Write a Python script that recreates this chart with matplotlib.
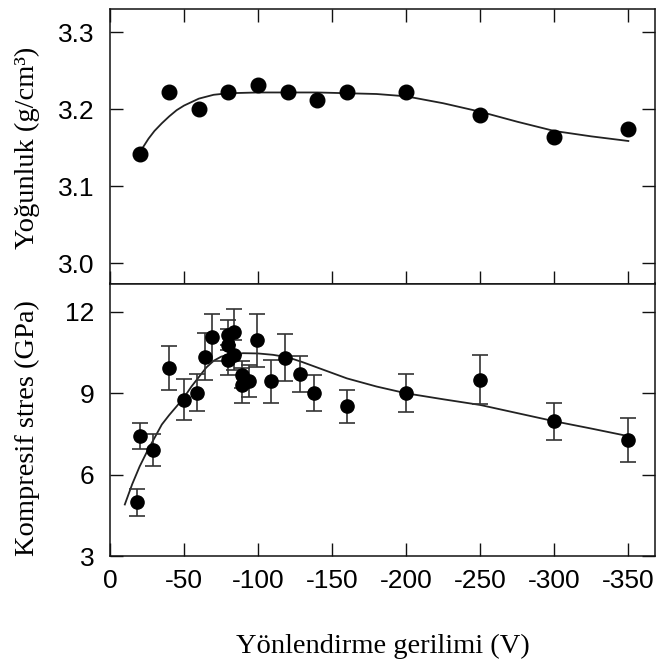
import matplotlib
matplotlib.use("Agg")
import matplotlib.pyplot as plt

plt.rcParams['axes.unicode_minus'] = False

# ---------------- data ----------------
# Top panel: density vs bias voltage
bias_density = [-20, -40, -60, -80, -100, -120, -140, -160, -200, -250, -300, -350]
density = [3.142, 3.222, 3.201, 3.222, 3.232, 3.222, 3.212, 3.222, 3.223, 3.193, 3.164, 3.174]

fit_density_x = [-22, -26, -30, -35, -40, -45, -50, -60, -70, -80, -100, -120, -140,
                 -160, -180, -200, -225, -250, -275, -300, -325, -350]
fit_density_y = [3.150, 3.162, 3.172, 3.182, 3.191, 3.199, 3.205, 3.214, 3.219, 3.221,
                 3.222, 3.222, 3.222, 3.221, 3.220, 3.217, 3.208, 3.197, 3.184, 3.172,
                 3.165, 3.159]

# Bottom panel: compressive stress vs bias voltage
bias_stress = [-18, -20, -29, -40, -50, -59, -64, -69, -80, -80, -80, -84, -84,
               -89, -89, -94, -99, -109, -118, -128, -138, -160, -200, -250, -300, -350]
stress = [4.98, 7.42, 6.91, 9.93, 8.77, 9.03, 10.35, 11.06, 11.15, 10.78, 10.23, 11.27, 10.41,
          9.68, 9.29, 9.46, 10.96, 9.44, 10.32, 9.72, 9.01, 8.52, 9.01, 9.50, 7.97, 7.28]
stress_err = [0.50, 0.48, 0.60, 0.80, 0.76, 0.69, 0.86, 0.88, 0.55, 0.60, 0.55, 0.85, 0.55,
              0.50, 0.65, 0.60, 0.98, 0.79, 0.85, 0.66, 0.67, 0.62, 0.69, 0.91, 0.69, 0.80]

fit_stress_x = [-10, -15, -20, -25, -30, -35, -40, -45, -50, -55, -60, -65, -70, -75, -80,
                -90, -100, -110, -120, -130, -140, -150, -160, -180, -200, -225, -250,
                -275, -300, -325, -350]
fit_stress_y = [4.90, 5.65, 6.30, 6.85, 7.35, 7.85, 8.20, 8.52, 8.85, 9.25, 9.60, 9.95,
                10.20, 10.35, 10.43, 10.48, 10.47, 10.42, 10.33, 10.15, 9.95, 9.75, 9.55,
                9.25, 9.00, 8.78, 8.57, 8.27, 7.97, 7.70, 7.42]

xtick_vals = [0, -50, -100, -150, -200, -250, -300, -350]
xtick_labels = ['0', '-50', '-100', '-150', '-200', '-250', '-300', '-350']
ytick_top = [3.0, 3.1, 3.2, 3.3]
ytick_top_labels = ['3.0', '3.1', '3.2', '3.3']
ytick_bot = [3, 6, 9, 12]
ytick_bot_labels = ['3', '6', '9', '12']

ylabel_top = 'Yoğunluk (g/cm³)'
ylabel_bot = 'Kompresif stres (GPa)'
xlabel = 'Yönlendirme gerilimi (V)'

# ---------------- figure ----------------
W, H = 658, 664
fig = plt.figure(figsize=(W / 100, H / 100), dpi=100)
left, right = 110 / W, 655 / W
y_top, y_mid, y_bot = 1 - 8.5 / H, 1 - 283.5 / H, 1 - 556 / H
ax1 = fig.add_axes([left, y_mid, right - left, y_top - y_mid])
ax2 = fig.add_axes([left, y_bot, right - left, y_mid - y_bot])

tick_font = dict(family='Liberation Sans', size=19)
label_font = dict(family='Liberation Serif', size=20.5)

for ax in (ax1, ax2):
    for sp in ax.spines.values():
        sp.set_linewidth(1.1)
        sp.set_color('#111111')
    ax.set_xlim(0, -368)
    ax.set_xticks(xtick_vals)
    ax.tick_params(axis='both', direction='in', length=9.5, width=1.0, color='#111111',
                   right=True, left=True, bottom=True)
    ax.tick_params(axis='y', pad=11)
    ax.tick_params(axis='x', pad=9)

# top panel
ax1.plot(fit_density_x, fit_density_y, color='#222222', lw=1.3, zorder=2)
ax1.plot(bias_density, density, 'o', color='black', ms=10.5, zorder=3)
ax1.set_ylim(2.974, 3.331)
ax1.set_yticks(ytick_top)
ax1.set_yticklabels(ytick_top_labels, fontdict=tick_font)
ax1.set_xticklabels([])
ax1.tick_params(axis='x', top=True)
ax1.tick_params(axis='x', which='both', labelbottom=False)

# bottom panel
ax2.plot(fit_stress_x, fit_stress_y, color='#222222', lw=1.3, zorder=2)
ax2.errorbar(bias_stress, stress, yerr=stress_err, fmt='o', color='black', ms=9.5,
             ecolor='#333333', elinewidth=1.2, capsize=6, capthick=1.2, zorder=3)
ax2.set_ylim(3.0, 13.05)
ax2.set_yticks(ytick_bot)
ax2.set_yticklabels(ytick_bot_labels, fontdict=tick_font)
ax2.set_xticklabels(xtick_labels, fontdict=tick_font)
ax2.tick_params(axis='x', top=False)

# axis labels
fig.text(27 / W, 1 - 148 / H, ylabel_top, rotation=90, ha='center', va='center', **label_font)
fig.text(27 / W, 1 - 428 / H, ylabel_bot, rotation=90, ha='center', va='center', **label_font)
fig.text(383 / W, 1 - 653 / H, xlabel, ha='center', va='baseline', **label_font)

fig.savefig('out.png', dpi=100)
